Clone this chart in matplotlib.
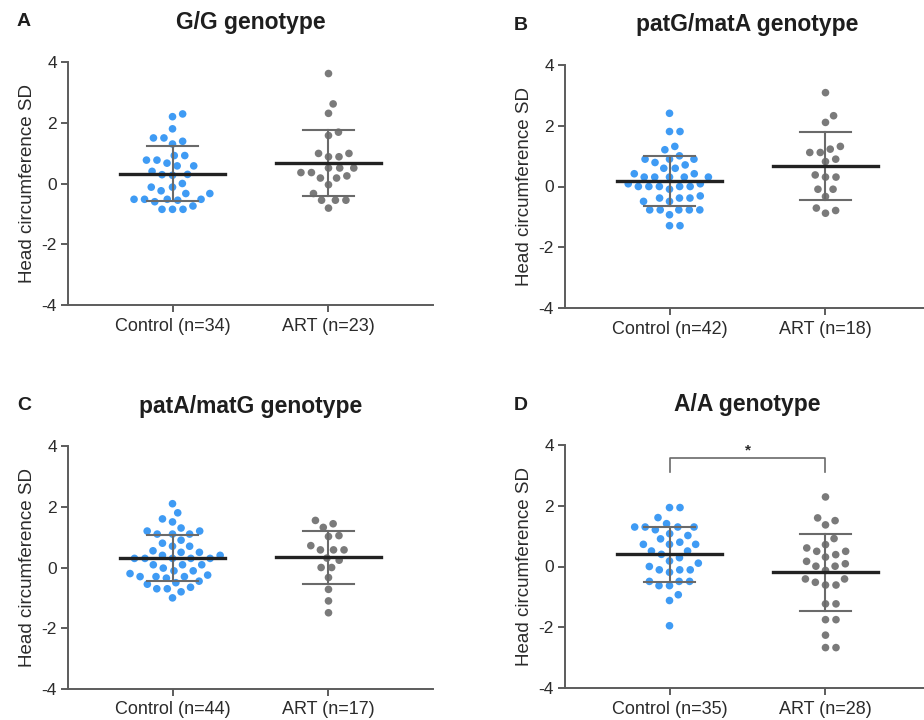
import numpy as np
import matplotlib
matplotlib.use("Agg")
import matplotlib.pyplot as plt

plt.rcParams["font.family"] = ["Liberation Sans", "DejaVu Sans"]

# ---- data ----
GROUP_NAMES = ["Control", "ART"]
PANEL_LETTERS = ["A", "B", "C", "D"]
PANEL_TITLES = ["G/G genotype", "patG/matA genotype", "patA/matG genotype", "A/A genotype"]
Y_TICKS = [-4, -2, 0, 2, 4]

gg_control = [2.29, 2.20, 1.80, 1.50, 1.50, 1.39, 1.30, 0.92, 0.92, 0.77, 0.77, 0.67,
              0.58, 0.58, 0.40, 0.29, 0.27, 0.30, 0.00, -0.12, -0.12, -0.24, -0.33, -0.33,
              -0.52, -0.52, -0.52, -0.52, -0.60, -0.55, -0.85, -0.85, -0.85, -0.74]
gg_art = [3.62, 2.62, 2.31, 1.58, 1.69, 0.99, 0.88, 0.88, 0.99, 0.51, 0.36, 0.25,
          0.18, -0.04, 0.18, 0.36, 0.51, 0.51, -0.55, -0.55, -0.55, -0.33, -0.81]

pgma_control = [2.41, 1.81, 1.81, 1.21, 1.32, 0.90, 0.90, 0.71, 0.79, 0.90, 1.01,
                0.60, 0.42, 0.31, 0.31, 0.31, 0.31, 0.31, 0.42, 0.60,
                0.09, 0.00, 0.00, 0.00, -0.09, 0.00, 0.00, 0.09,
                -0.38, -0.38, -0.49, -0.49, -0.38, -0.31,
                -0.77, -0.77, -0.77, -0.93, -0.77, -0.77, -1.29, -1.29]
pgma_art = [3.09, 2.33, 2.11, 1.12, 1.23, 1.32, 1.12, 0.90, 0.82, 0.38, 0.31, 0.31,
            -0.09, -0.09, -0.33, -0.71, -0.88, -0.79]

pamg_control = [2.10, 1.80, 1.60, 1.50, 1.30, 1.20, 1.20, 1.10, 1.10, 1.10,
                0.90, 0.80, 0.70, 0.70, 0.55, 0.50, 0.50, 0.40, 0.40, 0.30, 0.30, 0.30,
                0.30, 0.30, 0.09, 0.09, 0.09, -0.02, -0.11, -0.11, -0.20,
                -0.25, -0.30, -0.30, -0.35, -0.30, -0.45, -0.50, -0.55, -0.65, -0.70,
                -0.70, -0.80, -1.00]
pamg_art = [1.55, 1.44, 1.32, 1.05, 1.02, 0.72, 0.58, 0.58, 0.58, 0.24, 0.31,
            0.00, 0.00, -0.33, -0.72, -1.10, -1.49]

aa_control = [1.94, 1.94, 1.61, 1.41, 1.30, 1.30, 1.30, 1.30, 1.21, 1.02, 0.91, 1.08,
              0.80, 0.73, 0.73, 0.73, 0.51, 0.40, 0.51, 0.29, 0.11, 0.18, 0.00,
              -0.11, -0.11, -0.19, -0.11, -0.49, -0.49, -0.63, -0.63, -0.49,
              -0.93, -1.12, -1.95]
aa_art = [2.29, 1.60, 1.37, 1.51, 0.92, 0.72, 0.61, 0.50, 0.31, 0.39, 0.50, 0.17,
          0.09, 0.01, -0.13, 0.01, -0.41, -0.52, -0.61, -0.61, -0.41,
          -1.23, -1.23, -1.75, -1.75, -2.26, -2.67, -2.67]

PANEL_DATA = [(gg_control, gg_art), (pgma_control, pgma_art),
              (pamg_control, pamg_art), (aa_control, aa_art)]

# significance bracket for panel D (y of arms and top, in SD units)
BRACKET_LOW, BRACKET_HIGH = 3.12, 3.58

BLUE = "#3f9bf4"
GREY_DOT = "#7a7a7a"
AXIS_GREY = "#5c5c5c"
TEXT = "#2b2b2b"

# axes rectangles in pixels: left, y of top (value 4), y of bottom (value -4)
W, H = 924, 720
AX_PX = [(68, 62, 305), (565, 65, 308), (68, 446, 689), (565, 445, 688)]
AX_W_PX = 365
XLIM = (-0.67, 1.67)


def swarm_offsets(values, ax, diameter_px):
    trans = ax.transData
    pts = trans.transform(np.column_stack([np.zeros(len(values)), values]))
    y_px = pts[:, 1]
    x_scale = trans.transform([[1, 0]])[0, 0] - trans.transform([[0, 0]])[0, 0]
    order = np.argsort(y_px, kind="stable")
    placed = []
    offsets = np.zeros(len(values))
    for i in order:
        y = y_px[i]
        near = [(px, py) for px, py in placed if abs(py - y) < diameter_px]
        cands = [0.0]
        for px, py in near:
            dx = np.sqrt(diameter_px ** 2 - (py - y) ** 2)
            cands += [px + dx, px - dx]
        cands.sort(key=abs)
        chosen = 0.0
        for c in cands:
            if all((c - px) ** 2 + (y - py) ** 2 >= diameter_px ** 2 - 1e-6 for px, py in near):
                chosen = c
                break
        placed.append((chosen, y))
        offsets[i] = chosen / x_scale
    return offsets


fig = plt.figure(figsize=(W / 100, H / 100), dpi=100)

for k, ((left, top, bottom), letter, title, groups) in enumerate(
        zip(AX_PX, PANEL_LETTERS, PANEL_TITLES, PANEL_DATA)):
    ax = fig.add_axes([left / W, 1 - bottom / H, AX_W_PX / W, (bottom - top) / H])
    ax.set_xlim(*XLIM)
    ax.set_ylim(-4, 4)

    for gi, (vals, color) in enumerate(zip(groups, [BLUE, GREY_DOT])):
        vals = np.asarray(vals)
        xs = gi + swarm_offsets(vals, ax, 10.5)
        ax.scatter(xs, vals, s=30, color=color, edgecolors="none", zorder=2)
        m = vals.mean()
        sd = vals.std(ddof=1)
        ax.plot([gi, gi], [m - sd, m + sd], color="#6a6a6a", lw=1.5, zorder=3)
        for yy in (m - sd, m + sd):
            ax.plot([gi - 0.165, gi + 0.165], [yy, yy], color="#6a6a6a", lw=1.5, zorder=3)
        ax.plot([gi - 0.335, gi + 0.335], [m, m], color="#222222", lw=2.4, zorder=4)

    for side in ("top", "right"):
        ax.spines[side].set_visible(False)
    for side in ("left", "bottom"):
        ax.spines[side].set_color(AXIS_GREY)
        ax.spines[side].set_linewidth(1.4)

    ax.set_yticks(Y_TICKS)
    ax.set_yticklabels([str(t) for t in Y_TICKS])
    ax.set_xticks([0, 1])
    n_labels = [f"{name} (n={len(v)})" for name, v in zip(GROUP_NAMES, groups)]
    ax.set_xticklabels(n_labels)
    ax.tick_params(axis="y", length=5, width=1.4, color=AXIS_GREY, labelcolor=TEXT,
                   labelsize=12.5, pad=3)
    ax.tick_params(axis="x", length=5, width=1.4, color=AXIS_GREY, labelcolor=TEXT,
                   labelsize=13, pad=4)
    ax.set_ylabel("Head circumference SD", fontsize=13.5, color=TEXT, labelpad=4)

    cx = (left + AX_W_PX / 2) / W
    fig.text(cx, 1 - (top - 40) / H, title, ha="center", va="center",
             fontsize=16.5, fontweight="bold", color="#1e1e1e")
    fig.text((left - 44) / W, 1 - (top - 40) / H, letter, ha="center", va="center",
             fontsize=14, fontweight="bold", color="#1e1e1e")

    if letter == "D":
        ax.plot([0, 0, 1, 1], [BRACKET_LOW, BRACKET_HIGH, BRACKET_HIGH, BRACKET_LOW],
                color="#6a6a6a", lw=1.2, clip_on=False)
        ax.text(0.5, BRACKET_HIGH + 0.02, "*", ha="center", va="bottom",
                fontsize=11, color=TEXT, fontweight="bold")

fig.savefig("out.png", dpi=100)
